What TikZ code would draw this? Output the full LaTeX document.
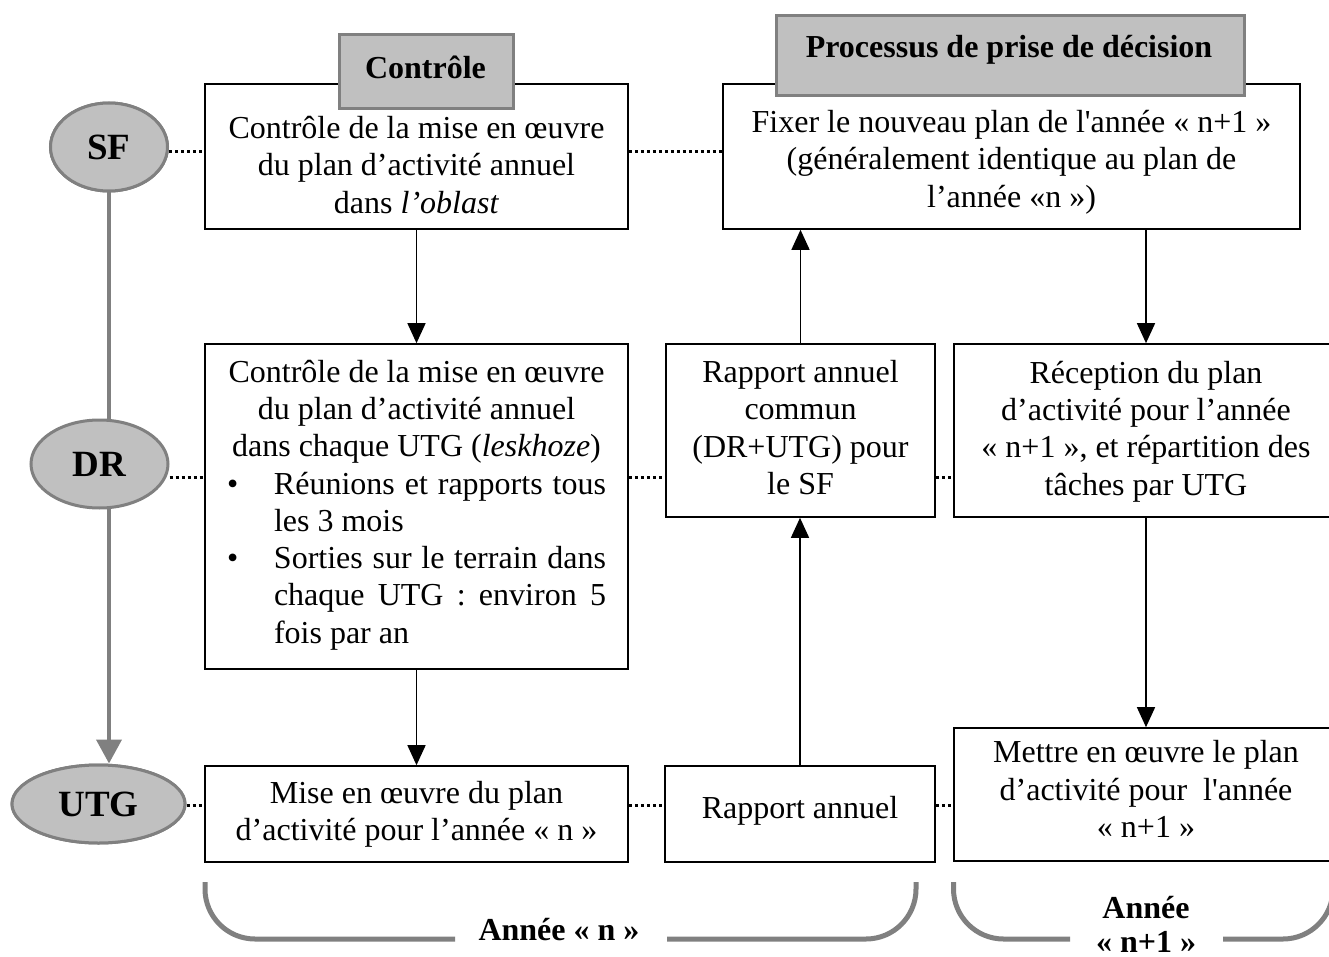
\documentclass[tikz,border=0pt]{standalone}
\usepackage{fontspec}
\setmainfont{Liberation Serif}[Ligatures=TeXOff]
\usetikzlibrary{shapes.geometric,arrows.meta}
\definecolor{fillg}{HTML}{C0C0C0}
\definecolor{lineg}{HTML}{808080}
\setlength{\parindent}{0pt}
\begin{document}
\begin{tikzpicture}[x=1pt,y=-1pt,
  frame/.style={draw=black, line width=1.6pt, fill=white, inner sep=0pt},
  hdr/.style={draw=lineg, line width=3pt, fill=fillg, inner sep=0pt},
  actor/.style={ellipse, draw=lineg, line width=3pt, fill=fillg, inner sep=0pt, font=\fontsize{37}{40}\selectfont\bfseries},
  txt/.style={font=\fontsize{32}{37.3}\selectfont, inner sep=0pt, align=flush center},
  htxt/.style={font=\fontsize{32}{37}\selectfont\bfseries, inner sep=0pt},
  arr/.style={line width=1.4pt, -{Triangle[width=18pt,length=20pt]}},
  dots/.style={line width=3pt, dash pattern=on 3pt off 3pt},
  gline/.style={draw=lineg, line width=4pt},
  brace/.style={draw=lineg, line width=5pt, rounded corners=50pt},
]
\useasboundingbox (0,0) rectangle (1329,957);
\fill[white] (0,0) rectangle (1329,957);
\clip (0,0) rectangle (1329,957);

% row levels of the dotted links
\coordinate (r1) at (0,152);
\coordinate (r2) at (0,477);
\coordinate (r3) at (0,805);

% actors
\node[actor, minimum width=117pt, minimum height=88pt] (sf) at (109,147) {};
\node[actor, minimum width=173pt, minimum height=78pt] (utg) at (98.5,804) {};
\draw[gline, -{Triangle[width=25pt,length=24pt]}] (sf.south) -- (sf.south |- utg.north);
\node[actor, minimum width=117pt, minimum height=88pt] (sf) at (109,147) {SF};
\node[actor, minimum width=137pt, minimum height=88pt] (dr) at (99.5,464) {DR};
\node[actor, minimum width=173pt, minimum height=78pt] (utg) at (98.5,804) {UTG};

% frames
\node[frame, minimum width=423pt, minimum height=145pt] (b1) at (416.5,156.5) {};
\node[frame, minimum width=577pt, minimum height=145pt] (b2) at (1011.5,156.5) {};
\node[frame, minimum width=423pt, minimum height=325pt] (b3) at (416.5,506.5) {};
\node[frame, minimum width=269pt, minimum height=173pt] (b4) at (800.5,430.5) {};
\node[frame, minimum width=384pt, minimum height=173pt] (b5) at (1146,430.5) {};
\node[frame, minimum width=423pt, minimum height=96pt] (b6) at (416.5,814) {};
\node[frame, minimum width=270pt, minimum height=96pt] (b7) at (800,814) {};
\node[frame, minimum width=384pt, minimum height=133pt] (b8) at (1146,794.5) {};

% headers
\node[hdr, minimum width=174pt, minimum height=74pt] (h1) at (426,72) {};
\node[hdr, minimum width=468pt, minimum height=80pt] (h2) at (1010,56) {};
\node[htxt, anchor=base] (h1t) at (425.5,79) {Contrôle};
\node[htxt, anchor=base] (h2t) at (1009,58) {Processus de prise de décision};

% dotted links
\draw[dots] (sf.east |- r1) -- (b1.west |- r1);
\draw[dots] (b1.east |- r1) -- (b2.west |- r1);
\draw[dots] (dr.east |- r2) -- (b3.west |- r2);
\draw[dots] (b3.east |- r2) -- (b4.west |- r2);
\draw[dots] (b4.east |- r2) -- (b5.west |- r2);
\draw[dots] (utg.east |- r3) -- (b6.west |- r3);
\draw[dots] (b6.east |- r3) -- (b7.west |- r3);
\draw[dots] (b7.east |- r3) -- (b8.west |- r3);

% arrows
\draw[arr] (b1.south) -- (b3.north);
\draw[arr] (b3.south) -- (b6.north);
\draw[arr] (b4.north) -- (b4.north |- b2.south);
\draw[arr] (b7.north) -- (b7.north |- b4.south);
\draw[arr] (b5.north |- b2.south) -- (b5.north);
\draw[arr] (b5.south) -- (b8.north);

% texts
\node[txt, text width=400pt] (t1) at (416.5,165) {Contrôle de la mise en œuvre\\du plan d’activité annuel\\dans \textit{l’oblast}};
\node[txt, text width=560pt] (t2) at (1011.5,162) {Fixer le nouveau plan de l'année «~n+1~»\\(généralement identique au plan de\\l’année «n~»)};
\node[txt, text width=379pt, align=justify] (t3) at (416.5,505) {\tolerance=9999\hyphenpenalty=10000%
{\centering Contrôle de la mise en œuvre\par du plan d’activité annuel\par dans chaque UTG (\textit{leskhoze})\par}%
\hangindent=47pt\hangafter=1\noindent\makebox[47pt][l]{\textbullet}Réunions et rapports tous les 3 mois\par
\hangindent=47pt\hangafter=1\noindent\makebox[47pt][l]{\textbullet}Sorties sur le terrain dans chaque UTG : environ 5 fois par an\par};
\node[txt, text width=260pt] (t4) at (800.5,427.5) {Rapport annuel\\commun\\(DR+UTG) pour\\le SF};
\node[txt, text width=375pt] (t5) at (1146,431.5) {Réception du plan\\d’activité pour l’année\\«~n+1~», et répartition des\\tâches par UTG};
\node[txt, text width=410pt] (t6) at (416.5,814.5) {Mise en œuvre du plan\\d’activité pour l’année «~n~»};
\node[txt, anchor=base] (t7) at (800,818) {Rapport annuel};
\node[txt, text width=375pt] (t8) at (1146,789) {Mettre en œuvre le plan\\d’activité pour\ \ l'année\\«~n+1~»};

% year brackets
\draw[brace] (205,882) -- (205,939) -- (455,939);
\draw[brace] (667,939) -- (916,939) -- (916,882);
\draw[brace] (953.5,882) -- (953.5,939) -- (1070,939);
\draw[brace] (1223,939) -- (1333,939) -- (1333,882);
\node[htxt, anchor=base] (y1) at (559,940) {Année «~n~»};
\node[htxt, align=center, font=\fontsize{32}{34}\selectfont\bfseries] (y2) at (1146,924) {Année\\«~n+1~»};
\end{tikzpicture}
\end{document}
